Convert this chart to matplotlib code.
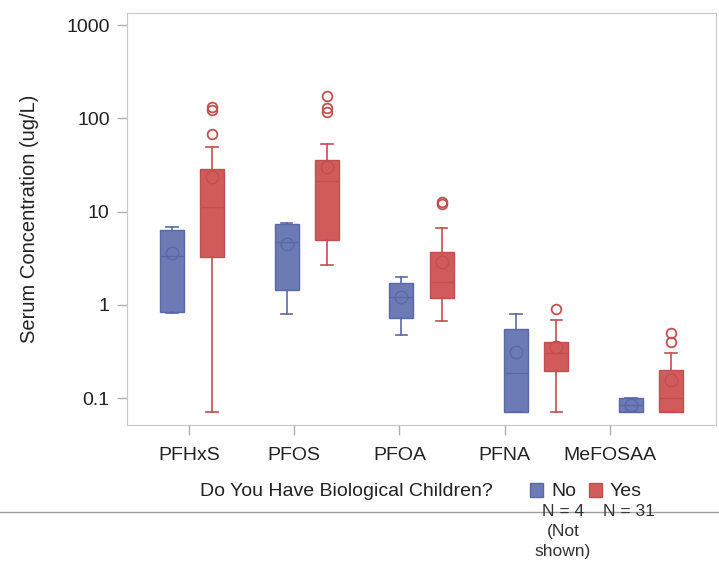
import numpy as np
import matplotlib.pyplot as plt
from matplotlib.patches import Rectangle

plt.rcParams['font.family'] = ['Liberation Sans', 'DejaVu Sans']

# Chemicals and groups
chemicals = ['PFHxS', 'PFOS', 'PFOA', 'PFNA', 'MeFOSAA']
groups = ['No', 'Yes']
group_n = ['N = 4\n(Not\nshown)', 'N = 31']

# Box statistics (ug/L)
no_q1 = [0.84, 1.45, 0.72, 0.071, 0.071]
no_med = [3.34, 4.7, 1.22, 0.186, 0.085]
no_q3 = [6.35, 7.4, 1.72, 0.55, 0.10]
no_mean = [3.6, 4.5, 1.22, 0.31, 0.085]
no_lo = [0.82, 0.80, 0.475, 0.071, 0.071]
no_hi = [6.8, 7.5, 1.99, 0.80, 0.10]
no_out = [[], [], [], [], []]

yes_q1 = [3.26, 4.97, 1.19, 0.196, 0.071]
yes_med = [11.2, 21.3, 1.76, 0.305, 0.10]
yes_q3 = [28.6, 35.7, 3.69, 0.40, 0.20]
yes_mean = [23.5, 30.0, 2.88, 0.354, 0.157]
yes_lo = [0.071, 2.68, 0.67, 0.071, 0.071]
yes_hi = [49, 53, 6.67, 0.69, 0.305]
yes_out = [[68, 123, 132], [117, 129, 173], [12.1, 12.7], [0.90], [0.40, 0.50]]

blue_fill, blue_edge = '#6C7BB4', '#5A69A6'
red_fill, red_edge = '#D15B5A', '#C0504F'

fig = plt.figure(figsize=(7.19, 5.63), dpi=100)
ax = fig.add_axes([127 / 719, 1 - 425 / 563, (716 - 127) / 719, (425 - 13) / 563])


def draw_group(q1, med, q3, mean, lo, hi, out, offset, fill, edge):
    stats = []
    for i in range(len(chemicals)):
        stats.append(dict(q1=q1[i], med=med[i], q3=q3[i], mean=mean[i],
                          whislo=lo[i], whishi=hi[i], fliers=out[i]))
    pos = np.arange(len(chemicals)) + offset
    ax.bxp(stats, positions=pos, widths=0.21, capwidths=0.1,
           showmeans=True, patch_artist=True, manage_ticks=False,
           boxprops=dict(facecolor=fill, edgecolor=edge, linewidth=1),
           medianprops=dict(color=edge, linewidth=1),
           whiskerprops=dict(color=edge, linewidth=1.2),
           capprops=dict(color=edge, linewidth=1.2),
           meanprops=dict(marker='o', markerfacecolor='none', markeredgecolor=edge,
                          markersize=9, markeredgewidth=1),
           flierprops=dict(marker='o', markerfacecolor='none', markeredgecolor=edge,
                           markersize=7, markeredgewidth=1.3))


draw_group(no_q1, no_med, no_q3, no_mean, no_lo, no_hi, no_out, -0.175, blue_fill, blue_edge)
draw_group(yes_q1, yes_med, yes_q3, yes_mean, yes_lo, yes_hi, yes_out, 0.175, red_fill, red_edge)

ax.set_yscale('log')
ax.set_ylim(0.0516, 1345)
ax.set_xlim(-0.566, 4.566)
ax.set_yticks([0.1, 1, 10, 100, 1000])
ax.set_yticklabels(['0.1', '1', '10', '100', '1000'])
ax.minorticks_off()
ax.set_xticks(np.arange(len(chemicals)) * 0.917 - 0.026)
ax.set_xticklabels(chemicals)
ax.tick_params(axis='both', colors='#B0B0B0', labelcolor='#222222', labelsize=14,
               length=7, width=1, pad=5.5)
ax.tick_params(axis='x', pad=8.5)
for s in ax.spines.values():
    s.set_color('#C8C8C8')
ax.set_ylabel('Serum Concentration (ug/L)', fontsize=14.5, color='#222222')
ax.yaxis.set_label_coords(-0.150, 0.5)

# Legend drawn by hand below the axes
fig.text(200 / 719, 1 - 491 / 563, 'Do You Have Biological Children?', fontsize=14,
         color='#222222', va='center', ha='left')
for x0, fill, edge, name, nx, ntxt in [(530, blue_fill, blue_edge, 'No', 563, group_n[0]),
                                       (589, red_fill, red_edge, 'Yes', 629, group_n[1])]:
    fig.add_artist(Rectangle((x0 / 719, 1 - 497 / 563), 13 / 719, 14 / 563,
                             facecolor=fill, edgecolor=edge, transform=fig.transFigure))
    fig.text((x0 + 21) / 719, 1 - 491 / 563, name, fontsize=14, color='#222222',
             va='center', ha='left')
    fig.text(nx / 719, 1 - 504 / 563, ntxt, fontsize=12.5, color='#333333',
             va='top', ha='center', linespacing=1.4)

fig.add_artist(plt.Line2D([0, 1], [1 - 512 / 563] * 2, color='#A0A0A0', linewidth=1,
                          transform=fig.transFigure))

fig.savefig('out.png', dpi=100)
